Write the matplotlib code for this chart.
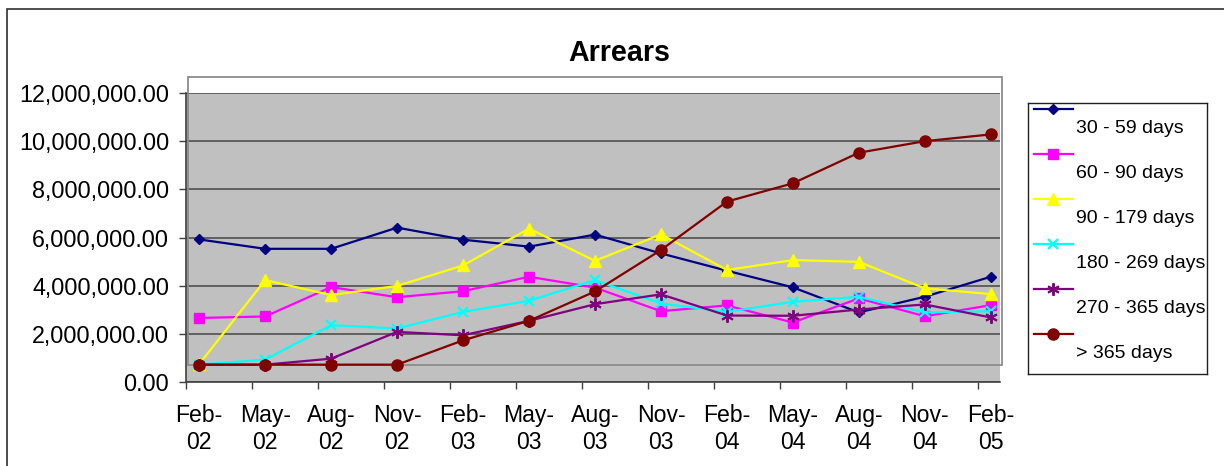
import matplotlib
matplotlib.use("Agg")
import matplotlib.pyplot as plt
from matplotlib.patches import Rectangle
from matplotlib.lines import Line2D
from matplotlib.ticker import FuncFormatter, FixedLocator

plt.rcParams["font.family"] = ["Liberation Sans", "DejaVu Sans"]

# data
dates = ["Feb-\n02", "May-\n02", "Aug-\n02", "Nov-\n02", "Feb-\n03", "May-\n03", "Aug-\n03",
         "Nov-\n03", "Feb-\n04", "May-\n04", "Aug-\n04", "Nov-\n04", "Feb-\n05"]
series_names = ["30 - 59 days", "60 - 90 days", "90 - 179 days",
                "180 - 269 days", "270 - 365 days", "> 365 days"]
days_30_59 = [5.92e6, 5.53e6, 5.53e6, 6.41e6, 5.91e6, 5.62e6, 6.12e6,
              5.34e6, 4.62e6, 3.93e6, 2.89e6, 3.54e6, 4.37e6]
days_60_90 = [2.66e6, 2.72e6, 3.94e6, 3.52e6, 3.77e6, 4.37e6, 3.92e6,
              2.94e6, 3.18e6, 2.47e6, 3.47e6, 2.73e6, 3.19e6]
days_90_179 = [0.74e6, 4.23e6, 3.61e6, 3.99e6, 4.84e6, 6.37e6, 5.03e6,
               6.13e6, 4.65e6, 5.06e6, 4.99e6, 3.89e6, 3.65e6]
days_180_269 = [0.72e6, 0.93e6, 2.36e6, 2.22e6, 2.91e6, 3.37e6, 4.23e6,
                3.26e6, 2.91e6, 3.33e6, 3.54e6, 2.89e6, 2.94e6]
days_270_365 = [0.72e6, 0.72e6, 0.97e6, 2.08e6, 1.94e6, 2.54e6, 3.23e6,
                3.64e6, 2.76e6, 2.75e6, 3.01e6, 3.22e6, 2.68e6]
days_over_365 = [0.72e6, 0.72e6, 0.72e6, 0.72e6, 1.73e6, 2.54e6, 3.76e6,
                 5.48e6, 7.49e6, 8.25e6, 9.52e6, 10.0e6, 10.28e6]

values = [days_30_59, days_60_90, days_90_179, days_180_269, days_270_365, days_over_365]
styles = [
    dict(color="#000080", marker="D", ms=5.2),
    dict(color="#FF00FF", marker="s", ms=7.5),
    dict(color="#FFFF00", marker="^", ms=8.5),
    dict(color="#00FFFF", marker="x", ms=7, mew=1.6),
    dict(color="#800080", marker=(6, 2, 0), ms=9, mew=1.4),
    dict(color="#800000", marker="o", ms=8),
]

W, H = 1224, 466


def fig_box(x0, y0, x1, y1):
    # pixel box (top-left origin) -> figure fraction rect
    return [x0 / W, 1 - y1 / H, (x1 - x0) / W, (y1 - y0) / H]


fig = plt.figure(figsize=(W / 100, H / 100), dpi=100)

# outer chart frame
fig.add_artist(Rectangle((7 / W, -0.1), 1.2, 1 - 8.5 / H + 0.1, transform=fig.transFigure,
                         fill=False, edgecolor="#303030", lw=1.2))

ax = fig.add_axes(fig_box(186, 93, 1000, 382))
ax.set_facecolor("#C0C0C0")

x = list(range(len(dates)))
for vals, st in zip(values, styles):
    ax.plot(x, vals, color=st["color"], lw=1.6, marker=st["marker"], ms=st["ms"],
            mew=st.get("mew", 1), mec=st["color"], mfc=st["color"], zorder=3, clip_on=False)

ax.set_xlim(-0.2, 12.14)
ax.set_ylim(0, 12e6)
ax.set_yticks([0, 2e6, 4e6, 6e6, 8e6, 10e6, 12e6])
ax.yaxis.set_major_formatter(FuncFormatter(lambda v, p: f"{v:,.2f}"))
ax.yaxis.grid(True, color="#505050", lw=1.2)
ax.set_axisbelow(True)

ax.xaxis.set_major_locator(FixedLocator([k - 0.2 for k in x]))
ax.xaxis.set_minor_locator(FixedLocator(x))
ax.set_xticklabels([], minor=False)
ax.set_xticklabels(dates, minor=True)
ax.tick_params(axis="x", which="major", length=5, width=1, color="#404040")
ax.tick_params(axis="x", which="minor", length=0, pad=16, labelsize=16.6)
ax.tick_params(axis="y", length=5, width=1, color="#404040", pad=7, labelsize=16.8)

for side in ["top", "right"]:
    ax.spines[side].set_visible(False)
for side in ["left", "bottom"]:
    ax.spines[side].set_color("#404040")
    ax.spines[side].set_linewidth(1.2)

# back wall outline (offset frame)
ax.add_artist(Rectangle((188 / W, 1 - 365 / H), 814 / W, 288 / H, transform=fig.transFigure,
                        fill=False, edgecolor="#8C8C8C", lw=1.3, zorder=1, clip_on=False))

fig.text(619 / W, 1 - 61 / H, "Arrears", ha="center", va="baseline",
         fontsize=20.6, fontweight="bold")

# legend, line sample above each label
lg = fig.add_axes(fig_box(1028, 103, 1207, 374))
lg.set_xlim(0, 179)
lg.set_ylim(271, 0)
lg.set_xticks([])
lg.set_yticks([])
for sp in lg.spines.values():
    sp.set_color("#202020")
    sp.set_linewidth(1)
for i, (name, st) in enumerate(zip(series_names, styles)):
    y_line = 5.5 + 45 * i
    lg.add_line(Line2D([6, 45], [y_line, y_line], color=st["color"], lw=1.6))
    lg.plot([25.3], [y_line], linestyle="none", marker=st["marker"], ms=st["ms"],
            mew=st.get("mew", 1), color=st["color"], clip_on=False)
    lg.text(47.7, 30.3 + 45 * i, name, ha="left", va="baseline", fontsize=14)

fig.savefig("out.png", dpi=100)
